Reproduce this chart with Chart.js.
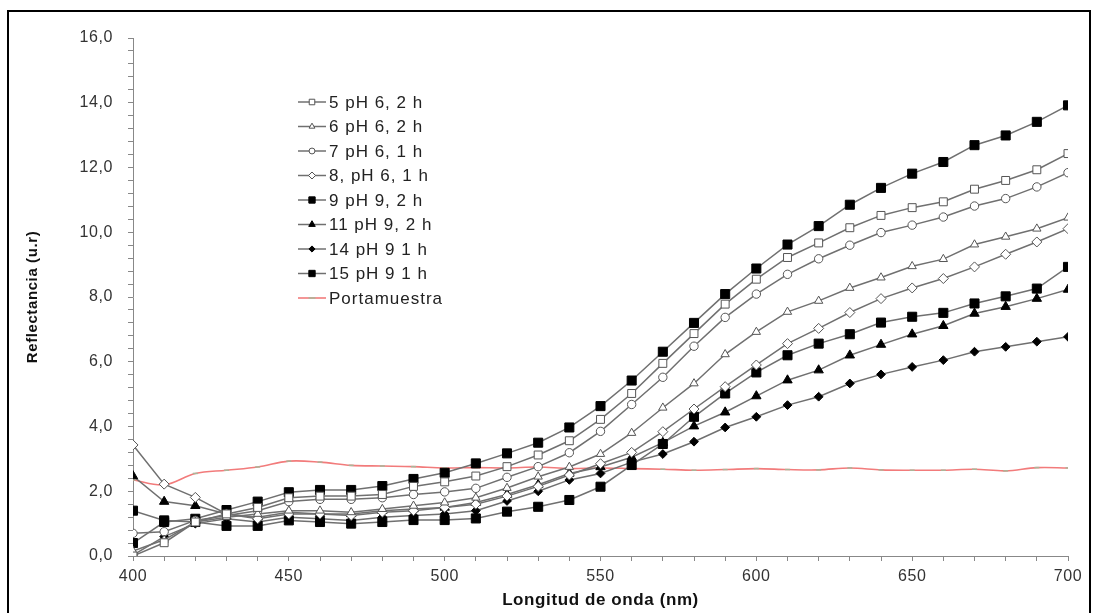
<!DOCTYPE html>
<html>
<head>
<meta charset="utf-8">
<script src="https://cdn.jsdelivr.net/npm/chart.js@4.4.0/dist/chart.umd.min.js"></script>
<style>
  html, body { margin: 0; padding: 0; background: #fff; }
  #wrap { position: relative; width: 1094px; height: 613px; overflow: hidden; }
  #frame { position: absolute; left: 7px; top: 10px; width: 1084px; height: 640px;
           border: 2px solid #000; box-sizing: border-box; }
  #chart { position: absolute; left: 0; top: 0; }
</style>
</head>
<body>
<div id="wrap">
  <div id="frame"></div>
  <canvas id="chart" width="1094" height="613"></canvas>
</div>
<script>
// wavelength (nm)
const wavelengths = [400, 410, 420, 430, 440, 450, 460, 470, 480, 490, 500,
                     510, 520, 530, 540, 550, 560, 570, 580, 590, 600,
                     610, 620, 630, 640, 650, 660, 670, 680, 690, 700];

// reflectance values (u.r)
const s5_pH6_2h  = [0.00, 0.41, 1.05, 1.30, 1.50, 1.80, 1.85, 1.85, 1.90, 2.15, 2.29,
                    2.47, 2.76, 3.12, 3.56, 4.22, 5.02, 5.95, 6.87, 7.78, 8.55,
                    9.22, 9.67, 10.14, 10.52, 10.76, 10.94, 11.33, 11.60, 11.93, 12.43];
const s6_pH6_2h  = [0.15, 0.50, 1.05, 1.20, 1.30, 1.40, 1.40, 1.35, 1.45, 1.55, 1.65,
                    1.80, 2.10, 2.45, 2.75, 3.15, 3.80, 4.58, 5.33, 6.23, 6.92,
                    7.54, 7.88, 8.28, 8.60, 8.95, 9.17, 9.62, 9.86, 10.11, 10.45];
const s7_pH6_1h  = [0.70, 0.75, 1.10, 1.25, 1.40, 1.68, 1.75, 1.75, 1.80, 1.90, 1.98,
                    2.09, 2.43, 2.76, 3.19, 3.85, 4.68, 5.52, 6.48, 7.37, 8.09,
                    8.70, 9.18, 9.60, 9.99, 10.22, 10.47, 10.81, 11.04, 11.40, 11.84];
const s8_pH6_1h  = [3.43, 2.22, 1.81, 1.30, 1.15, 1.30, 1.30, 1.25, 1.35, 1.40, 1.50,
                    1.60, 1.85, 2.15, 2.50, 2.85, 3.20, 3.84, 4.54, 5.23, 5.90,
                    6.56, 7.03, 7.52, 7.95, 8.28, 8.57, 8.93, 9.32, 9.70, 10.11];
const s9_pH9_2h  = [1.40, 1.10, 1.05, 0.93, 0.93, 1.10, 1.05, 1.00, 1.05, 1.11, 1.11,
                    1.16, 1.37, 1.52, 1.73, 2.14, 2.81, 3.46, 4.30, 5.02, 5.67,
                    6.20, 6.56, 6.85, 7.21, 7.39, 7.51, 7.80, 8.02, 8.26, 8.93];
const s11_pH9_2h = [2.47, 1.68, 1.55, 1.30, 1.20, 1.35, 1.30, 1.30, 1.40, 1.45, 1.50,
                    1.65, 1.90, 2.20, 2.55, 2.75, 3.05, 3.50, 4.01, 4.44, 4.94,
                    5.43, 5.74, 6.20, 6.53, 6.85, 7.11, 7.49, 7.70, 7.95, 8.23];
const s14_pH9_1h = [0.03, 0.60, 1.00, 1.15, 1.05, 1.20, 1.15, 1.10, 1.20, 1.25, 1.30,
                    1.40, 1.70, 2.00, 2.35, 2.55, 2.90, 3.15, 3.53, 3.97, 4.30,
                    4.66, 4.92, 5.33, 5.61, 5.84, 6.05, 6.31, 6.46, 6.62, 6.77];
const s15_pH9_1h = [0.40, 1.05, 1.15, 1.42, 1.68, 1.97, 2.04, 2.04, 2.16, 2.38, 2.57,
                    2.86, 3.17, 3.50, 3.97, 4.63, 5.42, 6.31, 7.20, 8.09, 8.88,
                    9.62, 10.19, 10.85, 11.37, 11.81, 12.17, 12.69, 12.99, 13.41, 13.92];
const portamuestra = [2.35, 2.20, 2.55, 2.65, 2.75, 2.93, 2.90, 2.80, 2.78, 2.76, 2.72,
                      2.73, 2.72, 2.75, 2.70, 2.72, 2.70, 2.68, 2.65, 2.67, 2.70,
                      2.67, 2.66, 2.72, 2.66, 2.65, 2.65, 2.68, 2.63, 2.73, 2.72];

const labels = ['5 pH 6, 2 h', '6 pH 6, 2 h', '7 pH 6, 1 h', '8, pH 6, 1 h', '9 pH 9, 2 h',
                '11 pH 9, 2 h', '14 pH 9 1 h', '15 pH 9 1 h', 'Portamuestra'];

const yTicksMajor = 2;      // labelled every 2,0
const xTicksMajor = 50;     // labelled every 50 nm

const LINE = '#707070';
const FONT = '"Liberation Sans", Arial, sans-serif';

function pts(vals) {
  return wavelengths.map((x, i) => ({ x, y: vals[i] }));
}

// open markers: white fill, grey outline. filled: black
function sampleSet(label, vals, style, filled, radius) {
  return {
    label,
    data: pts(vals),
    borderColor: LINE,
    borderWidth: 1.5,
    pointStyle: style,
    pointRadius: radius,
    pointHoverRadius: radius,
    pointBackgroundColor: filled ? '#000' : '#fff',
    pointBorderColor: filled ? '#000' : '#555',
    pointBorderWidth: 1,
    tension: 0,
  };
}

const datasets = [
  sampleSet(labels[0], s5_pH6_2h,  'rect',     false, 5.6),
  sampleSet(labels[1], s6_pH6_2h,  'triangle', false, 4.8),
  sampleSet(labels[2], s7_pH6_1h,  'circle',   false, 4.2),
  sampleSet(labels[3], s8_pH6_1h,  'rectRot',  false, 5),
  sampleSet(labels[4], s9_pH9_2h,  'rect',     true,  6.4),
  sampleSet(labels[5], s11_pH9_2h, 'triangle', true,  5.4),
  sampleSet(labels[6], s14_pH9_1h, 'rectRot',  true,  4.4),
  sampleSet(labels[7], s15_pH9_1h, 'rect',     true,  6.4),
  {
    label: labels[8],
    data: pts(portamuestra),
    borderColor: '#f27b7b',
    borderWidth: 1.6,
    pointStyle: 'line',
    pointRadius: 2.5,
    pointBorderColor: '#a9b79a',
    pointBorderWidth: 1.5,
    pointBackgroundColor: '#a9b79a',
    tension: 0.35,
  },
];

// the scanned figure's text is slightly tracked out
const tracking = {
  id: 'tracking',
  beforeDraw(chart) { chart.ctx.letterSpacing = '0.6px'; },
};

// legend drawn inside the plot, like the original spreadsheet chart
const insideLegend = {
  id: 'insideLegend',
  afterDraw(chart) {
    const { ctx, chartArea } = chart;
    const x0 = chartArea.left + 165;
    const y0 = chartArea.top + 64;
    const gap = 24.5;
    chart.data.datasets.forEach((ds, i) => {
      const y = y0 + i * gap;
      ctx.save();
      ctx.strokeStyle = ds.borderColor;
      ctx.lineWidth = ds.borderWidth;
      ctx.beginPath();
      ctx.moveTo(x0, y);
      ctx.lineTo(x0 + 28, y);
      ctx.stroke();
      ctx.fillStyle = ds.pointBackgroundColor;
      ctx.strokeStyle = ds.pointBorderColor;
      ctx.lineWidth = ds.pointBorderWidth;
      Chart.helpers.drawPoint(ctx, {
        pointStyle: ds.pointStyle,
        radius: ds.pointStyle === 'line' ? 3.5 : ds.pointRadius * 0.7,
        borderWidth: ds.pointBorderWidth,
        rotation: 0,
      }, x0 + 14, y);
      ctx.fillStyle = '#222';
      ctx.font = '17px ' + FONT;
      ctx.letterSpacing = '1px';
      ctx.textBaseline = 'middle';
      ctx.textAlign = 'left';
      ctx.fillText(ds.label, x0 + 31, y + 1);
      ctx.restore();
    });
  },
};

const isMultiple = (v, step) => Math.abs(v / step - Math.round(v / step)) < 1e-6;

new Chart(document.getElementById('chart'), {
  type: 'line',
  data: { datasets },
  plugins: [tracking, insideLegend],
  options: {
    responsive: false,
    animation: false,
    events: [],
    layout: { padding: { left: 0, right: 26, top: 38, bottom: 0 } },
    plugins: {
      legend: { display: false },
      tooltip: { enabled: false },
    },
    scales: {
      x: {
        type: 'linear',
        min: 400,
        max: 700,
        afterFit: s => { s.height = 57; },
        ticks: {
          stepSize: 10,
          autoSkip: false,
          maxRotation: 0,
          padding: 6,
          color: '#333',
          font: { family: FONT, size: 16 },
          callback: v => isMultiple(v, xTicksMajor) ? String(v) : '',
        },
        grid: { drawOnChartArea: false, tickLength: 5, color: '#888' },
        border: { display: true, color: '#888', width: 1 },
        title: {
          display: true,
          text: 'Longitud de onda (nm)',
          color: '#111',
          font: { family: FONT, size: 17, weight: 'bold' },
          padding: { top: 0, bottom: 2 },
        },
      },
      y: {
        min: 0,
        max: 16,
        afterFit: s => { s.width = 133; },
        ticks: {
          stepSize: 0.4,
          autoSkip: false,
          padding: 15,
          color: '#333',
          font: { family: FONT, size: 16 },
          callback: v => isMultiple(v, yTicksMajor) ? v.toFixed(1).replace('.', ',') : '',
        },
        grid: { drawOnChartArea: false, tickLength: 5, color: '#888' },
        border: { display: true, color: '#888', width: 1 },
        title: {
          display: true,
          text: 'Reflectancia (u.r)',
          color: '#111',
          font: { family: FONT, size: 15, weight: 'bold' },
          padding: { top: 24, bottom: 0 },
        },
      },
    },
  },
});
</script>
</body>
</html>
